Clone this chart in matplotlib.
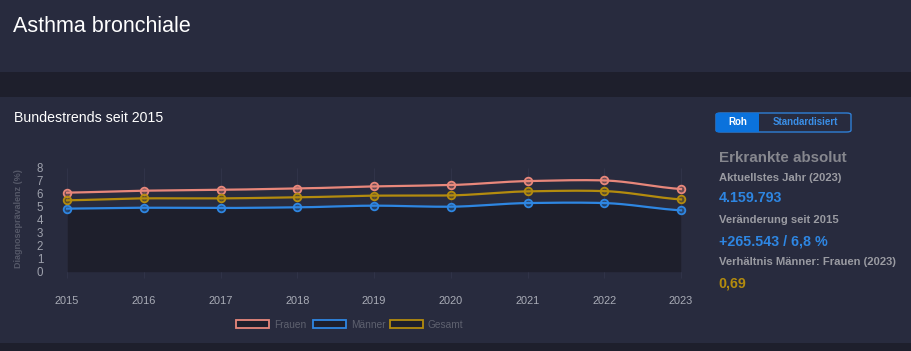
import numpy as np
import matplotlib
matplotlib.use("Agg")
import matplotlib.pyplot as plt
from matplotlib.patches import Rectangle, FancyBboxPatch

plt.rcParams['font.family'] = ['Liberation Sans', 'DejaVu Sans']

# data
years = [2015, 2016, 2017, 2018, 2019, 2020, 2021, 2022, 2023]
frauen = [6.08, 6.23, 6.30, 6.40, 6.56, 6.67, 6.97, 7.02, 6.36]
maenner = [4.85, 4.92, 4.90, 4.95, 5.08, 5.00, 5.28, 5.28, 4.72]
gesamt = [5.49, 5.64, 5.64, 5.72, 5.85, 5.87, 6.18, 6.20, 5.56]
series_names = ["Frauen", "Männer", "Gesamt"]
y_ticks = [0, 1, 2, 3, 4, 5, 6, 7, 8]

colors = {"Frauen": "#e8877b", "Männer": "#2e86e2", "Gesamt": "#b38b0e"}

W, H = 912, 351
PANEL = "#282b3e"
DARK = "#1e1f2c"


def fx(x):
    return x / W


def fy(y):
    return 1 - y / H


def smooth(xs, ys, n=30, tension=0.4):
    # cardinal-spline style curve through the points (like chart.js tension)
    xs = np.asarray(xs, float)
    ys = np.asarray(ys, float)
    m = np.zeros_like(ys)
    m[1:-1] = (ys[2:] - ys[:-2]) / (xs[2:] - xs[:-2])
    m[0] = (ys[1] - ys[0]) / (xs[1] - xs[0])
    m[-1] = (ys[-1] - ys[-2]) / (xs[-1] - xs[-2])
    m *= (1 - tension)
    out_x, out_y = [], []
    for i in range(len(xs) - 1):
        h = xs[i + 1] - xs[i]
        t = np.linspace(0, 1, n, endpoint=False)
        h00 = 2 * t**3 - 3 * t**2 + 1
        h10 = t**3 - 2 * t**2 + t
        h01 = -2 * t**3 + 3 * t**2
        h11 = t**3 - t**2
        out_x.extend(xs[i] + t * h)
        out_y.extend(h00 * ys[i] + h10 * h * m[i] + h01 * ys[i + 1] + h11 * h * m[i + 1])
    out_x.append(xs[-1])
    out_y.append(ys[-1])
    return np.array(out_x), np.array(out_y)


fig = plt.figure(figsize=(W / 100, H / 100), dpi=100)
fig.patch.set_facecolor(DARK)

# panels (behind everything)
fig.patches.append(Rectangle((fx(0), fy(72)), fx(912), 72 / H, transform=fig.transFigure,
                             facecolor=PANEL, edgecolor="none", zorder=-10))
fig.patches.append(Rectangle((fx(0), fy(343)), fx(912), 246 / H, transform=fig.transFigure,
                             facecolor=PANEL, edgecolor="none", zorder=-10))

fig.text(fx(13), fy(26), "Asthma bronchiale", color="white", fontsize=15.5, va="center", ha="left")
fig.text(fx(14), fy(118), "Bundestrends seit 2015", color="white", fontsize=10.2, va="center", ha="left")

# chart
ax = fig.add_axes([fx(67), fy(271.7), fx(681) - fx(67), 104 / H])
ax.set_facecolor("none")
ax.set_xlim(2015, 2023)
ax.set_ylim(0, 8)
for s in ax.spines.values():
    s.set_visible(False)

ax.vlines(years, -0.5, 8.0, color="#303348", lw=0.8, clip_on=False, zorder=0)

data = {"Frauen": frauen, "Männer": maenner, "Gesamt": gesamt}
sx, sy = smooth(years, maenner)
ax.fill_between(sx, 0, sy, color=DARK, lw=0, zorder=1)

for name in series_names:
    c = colors[name]
    sx, sy = smooth(years, data[name])
    ax.plot(sx, sy, color=c, lw=1.6, zorder=3, clip_on=False)
    ax.plot(years, data[name], ls="none", marker="o", ms=5.5, mfc=c + "55",
            mec=c, mew=1.3, zorder=4, clip_on=False)

ax.set_yticks(y_ticks)
ax.set_xticks(years)
ax.tick_params(axis="y", length=0, pad=19.5, labelsize=8.3, labelcolor="#9ea1ac")
ax.tick_params(axis="x", length=0, pad=17.5, labelsize=7.9, labelcolor="#a9acb6")
for lbl in ax.get_yticklabels():
    lbl.set_horizontalalignment("center")

fig.text(fx(19), fy(219), "Diagnoseprävalenz (%)", rotation=90, color="#555868",
         fontsize=6.5, fontweight="bold", va="center", ha="center")

# legend
leg_x = [236, 313, 390]
for name, x0 in zip(series_names, leg_x):
    fig.patches.append(Rectangle((fx(x0), fy(328)), 33 / W, 8 / H, transform=fig.transFigure,
                                 facecolor=DARK, edgecolor=colors[name], lw=1.3))
    fig.text(fx(x0 + 38), fy(324.5), name, color="#5e616f", fontsize=7.3, va="center", ha="left")

# right info
fig.patches.append(FancyBboxPatch((fx(716), fy(132)), fx(851) - fx(716), 19 / H,
                                  boxstyle="round,pad=0,rounding_size=0.005",
                                  transform=fig.transFigure, facecolor=PANEL,
                                  edgecolor="#2f7fd6", lw=1))
fig.patches.append(Rectangle((fx(716), fy(132)), fx(759) - fx(716), 19 / H,
                             transform=fig.transFigure, facecolor="#0b72dc", edgecolor="none"))
fig.text(fx(737.5), fy(122.5), "Roh", color="white", fontsize=7, fontweight="bold",
         va="center", ha="center")
fig.text(fx(805), fy(122.5), "Standardisiert", color="#3a8ee6", fontsize=7, fontweight="bold",
         va="center", ha="center")

fig.text(fx(719), fy(158), "Erkrankte absolut", color="#86878e", fontsize=10.9,
         fontweight="bold", va="center", ha="left")
fig.text(fx(719), fy(178), "Aktuellstes Jahr (2023)", color="#9a9ba2", fontsize=8.1,
         fontweight="bold", va="center", ha="left")
fig.text(fx(719), fy(198.5), "4.159.793", color="#2e86e2", fontsize=10.3,
         fontweight="bold", va="center", ha="left")
fig.text(fx(719), fy(220), "Veränderung seit 2015", color="#9a9ba2", fontsize=8.1,
         fontweight="bold", va="center", ha="left")
fig.text(fx(719), fy(241), "+265.543 / 6,8 %", color="#2e86e2", fontsize=10.3,
         fontweight="bold", va="center", ha="left")
fig.text(fx(719), fy(262), "Verhältnis Männer: Frauen (2023)", color="#9a9ba2", fontsize=8.1,
         fontweight="bold", va="center", ha="left")
fig.text(fx(718.5), fy(283), "0,69", color="#b38b0e", fontsize=10.3,
         fontweight="bold", va="center", ha="left")

fig.savefig("out.png", dpi=100, facecolor=fig.get_facecolor())
